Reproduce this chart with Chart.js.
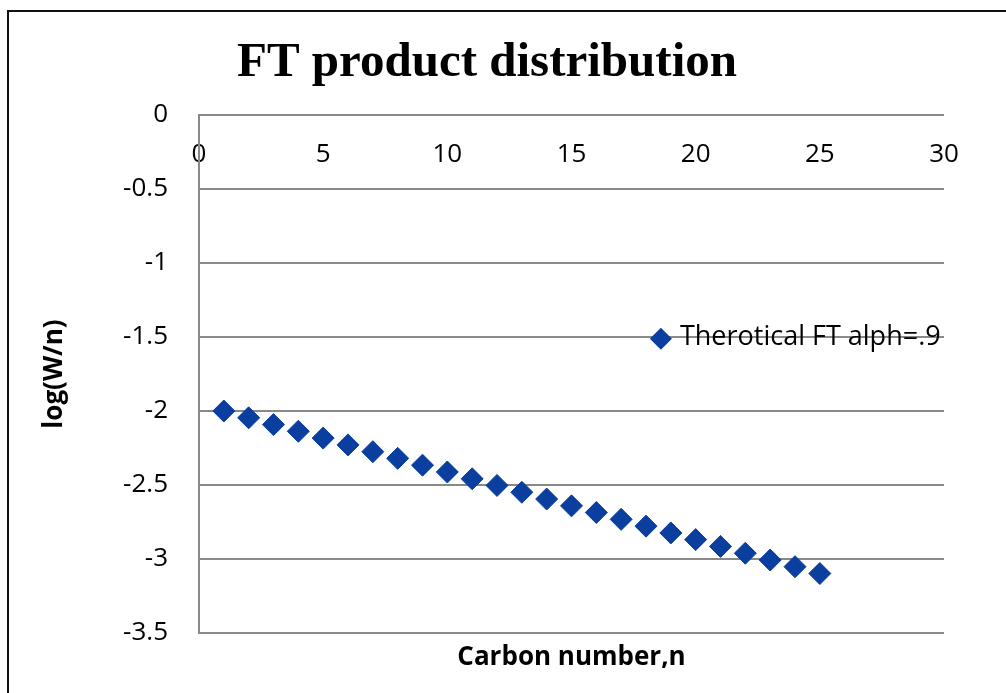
<!DOCTYPE html>
<html>
<head>
<meta charset="utf-8">
<script src="https://cdn.jsdelivr.net/npm/chart.js@4.4.1/dist/chart.umd.min.js"></script>
<style>
  html, body { margin: 0; padding: 0; background: #ffffff; }
  #wrap { position: relative; width: 1006px; height: 693px; }
</style>
</head>
<body>
<div id="wrap"><canvas id="c" width="1006" height="693"></canvas></div>
<script>
// ---- data ----
const carbonNumbers = [1, 2, 3, 4, 5, 6, 7, 8, 9, 10, 11, 12, 13, 14, 15, 16, 17, 18, 19, 20, 21, 22, 23, 24, 25];
const logWn = [-2.000, -2.046, -2.092, -2.137, -2.183, -2.229, -2.275, -2.320, -2.366, -2.412,
               -2.458, -2.503, -2.549, -2.595, -2.641, -2.686, -2.732, -2.778, -2.824, -2.869,
               -2.915, -2.961, -3.007, -3.052, -3.098];
const seriesName = 'Therotical FT alph=.9';
const chartTitle = 'FT product distribution';
const xAxisTitle = 'Carbon number,n';
const yAxisTitle = 'log(W/n)';
const xTickValues = [0, 5, 10, 15, 20, 25, 30];
const xTickLabels = ['0', '5', '10', '15', '20', '25', '30'];
const yTickValues = [-3.5, -3, -2.5, -2, -1.5, -1, -0.5, 0];
const yTickLabels = ['-3.5', '-3', '-2.5', '-2', '-1.5', '-1', '-0.5', '0'];

const MARKER = '#0a3e9f';
const GRID = '#898989';
const SANS = "'Open Sans', 'Liberation Sans', sans-serif";

const framePlugin = {
  id: 'frame',
  beforeDraw(chart) {
    const ctx = chart.ctx;
    ctx.save();
    ctx.fillStyle = '#ffffff';
    ctx.fillRect(0, 0, chart.width, chart.height);
    ctx.fillStyle = '#111111';
    ctx.fillRect(7, 10, chart.width - 7, 2);
    ctx.fillRect(7, 10, 2, chart.height - 10);
    ctx.restore();
  }
};

const legendPlugin = {
  id: 'insideLegend',
  afterDatasetsDraw(chart) {
    const ca = chart.chartArea;
    const ds = chart.data.datasets[0];
    const ctx = chart.ctx;
    const mx = ca.left + 0.620 * (ca.right - ca.left);
    const my = ca.top + 0.432 * (ca.bottom - ca.top);
    const r = 11;
    ctx.save();
    ctx.fillStyle = ds.backgroundColor;
    ctx.beginPath();
    ctx.moveTo(mx, my - r);
    ctx.lineTo(mx + r, my);
    ctx.lineTo(mx, my + r);
    ctx.lineTo(mx - r, my);
    ctx.closePath();
    ctx.fill();
    ctx.fillStyle = '#000000';
    ctx.font = "27px " + SANS;
    ctx.textAlign = 'left';
    ctx.textBaseline = 'middle';
    ctx.fillText(ds.label, mx + 19, my - 1);
    ctx.restore();
  }
};

new Chart(document.getElementById('c'), {
  type: 'scatter',
  data: {
    datasets: [{
      label: seriesName,
      data: carbonNumbers.map((n, i) => ({ x: n, y: logWn[i] })),
      backgroundColor: MARKER,
      borderColor: MARKER,
      borderWidth: 1,
      pointStyle: 'rectRot',
      pointRadius: 11,
      pointHoverRadius: 11,
      showLine: false
    }]
  },
  plugins: [framePlugin, legendPlugin],
  options: {
    responsive: false,
    animation: false,
    events: [],
    layout: { padding: { left: 30, right: 62, top: 0, bottom: 0 } },
    plugins: {
      legend: { display: false },
      tooltip: { enabled: false },
      title: {
        display: true,
        text: chartTitle,
        color: '#000000',
        font: { family: "'Liberation Serif', 'Times New Roman', serif", size: 49, weight: 'bold', lineHeight: '60px' },
        padding: { top: 33, bottom: 0 }
      }
    },
    scales: {
      x: {
        type: 'linear',
        position: 'top',
        min: 0, max: 30,
        afterBuildTicks(scale) { scale.ticks = xTickValues.map(v => ({ value: v })); },
        afterFit(scale) { scale.height = 22; },
        ticks: {
          mirror: true,
          padding: 24,
          color: '#000000',
          font: { family: SANS, size: 26 },
          callback: (v) => xTickLabels[xTickValues.indexOf(v)]
        },
        grid: { display: false },
        border: { display: false }
      },
      x2: {
        type: 'linear',
        position: 'bottom',
        axis: 'x',
        min: 0, max: 30,
        afterFit(scale) { scale.height = 60; },
        ticks: { display: false },
        grid: { display: false },
        border: { display: false },
        title: {
          display: true,
          text: xAxisTitle,
          color: '#000000',
          font: { family: SANS, size: 26, weight: 'bold' },
          padding: { top: 0, bottom: 20 }
        }
      },
      y: {
        type: 'linear',
        position: 'left',
        min: -3.5, max: 0,
        afterBuildTicks(scale) { scale.ticks = yTickValues.map(v => ({ value: v })); },
        afterFit(scale) { scale.width = 169; },
        ticks: {
          padding: 31,
          color: '#000000',
          font: { family: SANS, size: 26 },
          callback: (v) => yTickLabels[yTickValues.indexOf(v)]
        },
        grid: { color: GRID, lineWidth: 2, drawTicks: false },
        border: { display: true, color: GRID, width: 2 },
        title: {
          display: true,
          text: yAxisTitle,
          color: '#000000',
          font: { family: SANS, size: 26, weight: 'bold' },
          padding: { top: 9, bottom: 0 }
        }
      }
    }
  }
});
</script>
</body>
</html>
